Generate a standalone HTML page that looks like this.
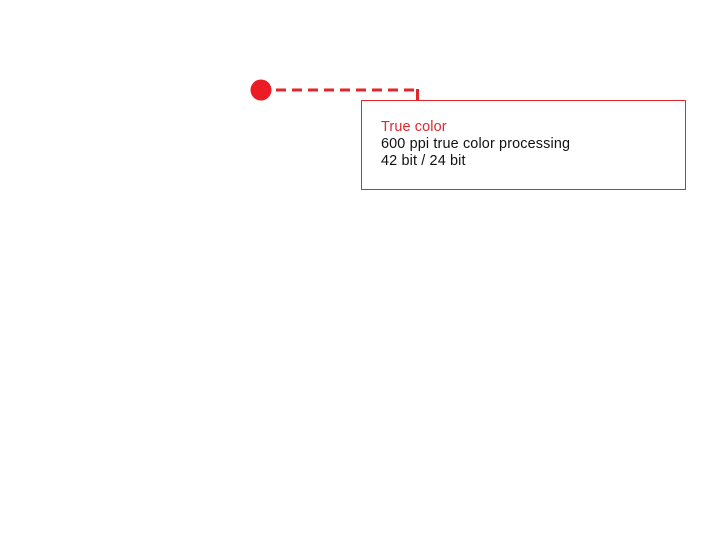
<!DOCTYPE html>
<html><head><meta charset="utf-8"><style>
html,body{margin:0;padding:0;background:#fff;width:718px;height:540px;overflow:hidden;position:relative;font-family:"Liberation Sans",Arial,sans-serif}
.box{position:absolute;left:361px;top:100px;width:323px;height:88px;border:1px solid #e3262b}
.t{position:absolute;left:381px;font-size:14.4px;letter-spacing:0.15px;line-height:17px;color:#111;white-space:nowrap}
</style></head><body>
<svg width="718" height="540" style="position:absolute;left:0;top:0">
<circle cx="261" cy="90" r="10.5" fill="#ec1c24"/>
<line x1="276" y1="90" x2="418" y2="90" stroke="#e3262b" stroke-width="3" stroke-dasharray="10,6"/>
<line x1="417.5" y1="89" x2="417.5" y2="100" stroke="#e3262b" stroke-width="3"/>
</svg>
<div class="box"></div>
<div class="t" style="top:119px;color:#e3262b">True color</div>
<div class="t" style="top:136px">600 ppi true color processing</div>
<div class="t" style="top:153px">42 bit / 24 bit</div>
</body></html>
